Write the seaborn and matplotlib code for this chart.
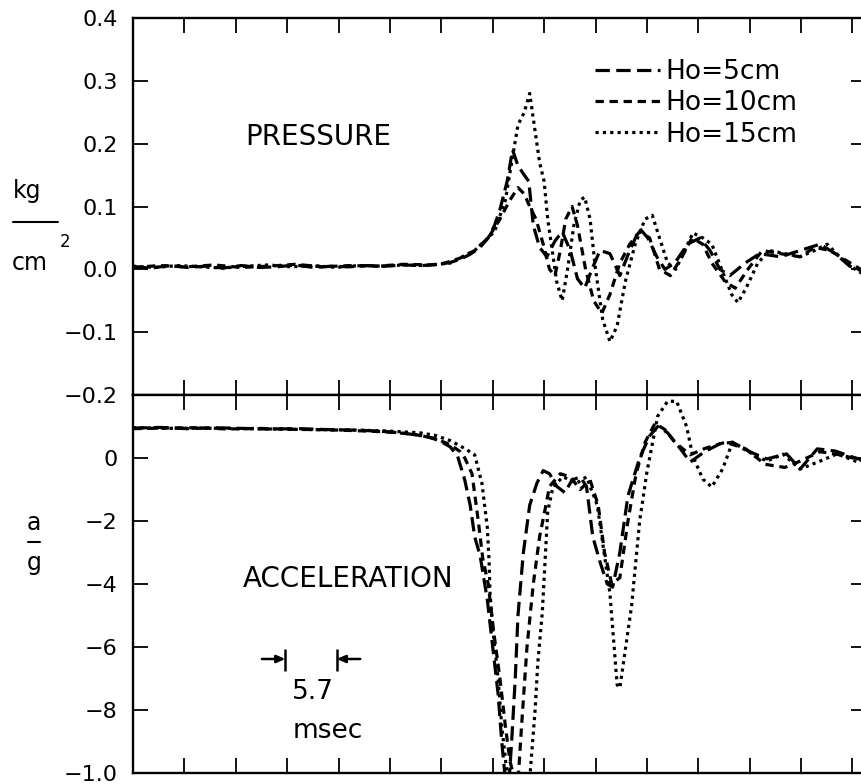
import pandas as pd
import numpy as np
import matplotlib
matplotlib.use("Agg")
import matplotlib.pyplot as plt
import seaborn as sns
from matplotlib.lines import Line2D

# time in msec (one x tick = 5.7 msec), pressure in kg/cm2, acceleration in a/g
labels = ["Ho=5cm", "Ho=10cm", "Ho=15cm"]

press_x_5 = [0, 2, 4, 6, 8, 10, 12, 14, 16, 18, 20, 22, 24, 26, 28, 30, 32,
             34.0, 35.2, 36.3, 37.4, 38.5, 39.4, 40.1, 40.7, 41.5, 42.1,
             42.7, 43.4, 43.9, 44.4, 45.1, 45.9, 46.8, 47.6, 48.5, 49.3,
             50.1, 50.9, 51.8, 52.9, 54.0, 55.1, 56.2, 57.1, 58.1, 59.0,
             60.1, 61.5, 62.9, 64.0, 65.1, 66.2, 67.9, 69.5, 71.8, 74.0,
             76.2, 77.9, 79.5, 81.3]
press_y_5 = [0.004, 0.002, 0.006, 0.003, 0.005, 0.002, 0.006, 0.003, 0.004, 0.007, 0.003, 0.005,
             0.004, 0.006, 0.005, 0.007, 0.006,
             0.008, 0.011, 0.016, 0.024, 0.035, 0.05, 0.07, 0.095, 0.14, 0.19,
             0.165, 0.15, 0.14, 0.07, 0.035, 0.02, 0.045, 0.06, 0.03, -0.015,
             -0.03, 0.0, 0.03, 0.025, -0.01, 0.03, 0.065, 0.05, 0.02, 0.0,
             0.01, 0.04, 0.05, 0.03, 0.0, -0.01, 0.01, 0.025, 0.02, 0.03,
             0.04, 0.025, 0.005, -0.005]

press_x_10 = [0, 3, 6, 9, 12, 15, 18, 21, 24, 27, 30, 33,
              34.6, 36.3, 37.9, 39.4, 40.7, 41.8, 42.7, 43.4, 44.0, 44.7,
              45.5, 46.2, 46.8, 47.4, 48.0, 48.7, 49.3, 50.2, 51.1, 52.0,
              52.9, 54.0, 55.1, 56.2, 57.3, 58.4, 59.6, 60.9, 62.0, 63.2,
              64.2, 65.7, 66.8, 68.2, 69.8, 71.8, 74.0, 75.6, 77.3, 79.0, 81.3]
press_y_10 = [0.003, 0.006, 0.004, 0.007, 0.003, 0.005, 0.008, 0.004, 0.006, 0.005, 0.008, 0.007,
              0.01, 0.018, 0.03, 0.05, 0.08, 0.11, 0.13, 0.12, 0.10, 0.08,
              0.04, 0.0, -0.01, 0.03, 0.08, 0.10, 0.07, 0.0, -0.05, -0.07,
              -0.04, 0.01, 0.04, 0.06, 0.05, 0.0, -0.01, 0.02, 0.05, 0.04,
              0.01, -0.02, -0.03, 0.0, 0.03, 0.025, 0.02, 0.035, 0.03, 0.015, -0.005]

press_x_15 = [0, 2.5, 5, 7.5, 10, 12.5, 15, 17.5, 20, 22.5, 25, 27.5, 30, 32.5,
              35.2, 37.9, 40.1, 41.3, 42.0, 42.7, 43.4, 44.0, 44.6, 45.1,
              45.6, 46.0, 46.5, 47.0, 47.6, 48.2, 48.9, 49.6, 50.1, 50.7,
              51.3, 52.1, 52.9, 53.7, 54.6, 55.7, 56.8, 57.6, 58.4, 59.3,
              60.2, 61.2, 62.1, 63.2, 64.2, 65.3, 66.4, 67.1, 68.0, 69.3,
              70.6, 72.3, 74.0, 75.6, 77.0, 78.4, 80.1, 81.3]
press_y_15 = [0.005, 0.003, 0.006, 0.004, 0.002, 0.005, 0.007, 0.004, 0.006, 0.003, 0.006, 0.005,
              0.007, 0.006,
              0.01, 0.03, 0.06, 0.11, 0.17, 0.23, 0.25, 0.28, 0.22, 0.17,
              0.14, 0.08, 0.03, -0.02, -0.05, 0.0, 0.07, 0.11, 0.115, 0.08,
              0.0, -0.08, -0.115, -0.09, -0.02, 0.04, 0.08, 0.086, 0.05, 0.01,
              0.0, 0.03, 0.058, 0.05, 0.04, 0.0, -0.04, -0.053, -0.03, 0.01,
              0.03, 0.025, 0.02, 0.03, 0.04, 0.02, 0.0, -0.01]

acc_x_5 = [0, 3, 6, 9, 12, 15, 18.5, 21.8, 25.2, 27.4, 29.6, 31.8, 32.9, 34.0,
           35.2, 36.0, 36.8, 37.4, 37.9, 38.5, 39.3, 39.9, 40.5, 40.9,
           41.3, 41.7, 42.0, 42.4, 42.7, 43.3, 44.0, 44.8, 45.5, 46.2,
           47.0, 47.9, 48.7, 49.6, 50.3, 51.0, 51.8, 52.6, 53.2, 54.0,
           54.9, 56.2, 57.3, 58.2, 59.3, 60.7, 61.8, 63.4, 65.1, 66.5,
           68.4, 70.3, 72.5, 74.0, 75.9, 77.9, 79.5, 81.3]
acc_y_5 = [0.95, 0.97, 0.93, 0.96, 0.94, 0.92, 0.93, 0.9, 0.88, 0.85, 0.8, 0.72, 0.65, 0.55,
           0.35, 0.06, -0.7, -1.5, -2.5, -3.1, -4.5, -6.0, -7.5, -9.0,
           -10.2, -10.3, -9.0, -7.0, -5.0, -3.0, -1.5, -0.8, -0.4, -0.5,
           -0.9, -1.1, -0.7, -0.6, -0.9, -2.5, -3.3, -4.0, -4.1, -3.0,
           -1.2, 0.0, 0.7, 1.0, 0.8, 0.3, -0.13, 0.2, 0.45, 0.5,
           0.2, -0.03, 0.13, -0.35, 0.29, 0.22, 0.06, -0.1]

acc_x_10 = [0, 3.5, 7, 10.5, 14, 17.5, 21, 24.5, 28, 31, 33.5,
            35.2, 36.3, 36.8, 37.6, 38.3, 38.8, 39.4, 40.0, 40.7, 41.3,
            41.8, 42.4, 42.7, 43.1, 43.7, 44.4, 45.1, 45.8, 46.2, 47.4,
            48.5, 49.6, 50.7, 51.6, 52.3, 53.1, 54.0, 54.9, 55.8, 56.8,
            57.9, 59.0, 60.1, 61.8, 63.4, 65.7, 67.9, 70.1, 72.3, 74.0,
            76.2, 78.4, 81.3]
acc_y_10 = [0.93, 0.95, 0.96, 0.92, 0.94, 0.91, 0.9, 0.87, 0.83, 0.76, 0.62,
            0.42, 0.2, 0.0, -0.5, -2.0, -3.2, -4.0, -5.5, -7.0, -8.5,
            -9.6, -10.3, -10.3, -8.5, -6.0, -4.0, -2.5, -1.5, -0.9, -0.5,
            -0.6, -1.0, -0.7, -1.5, -3.0, -4.0, -3.8, -2.0, -0.5, 0.5,
            1.1, 0.9, 0.5, 0.1, 0.3, 0.5, 0.3, -0.2, -0.3, -0.1,
            0.2, 0.1, -0.1]

acc_x_15 = [0, 4, 8, 12, 16, 20, 24, 28, 31.8, 33.5,
            35.2, 36.8, 37.9, 38.7, 39.3, 39.5, 39.6, 39.9, 40.5, 40.9,
            41.4, 42.0, 43.1, 44.0, 44.6, 44.9, 45.4, 45.7, 46.0, 46.6,
            47.7, 49.2, 50.3, 51.5, 52.1, 52.9, 53.7, 54.0, 55.3, 56.2,
            57.0, 58.2, 59.3, 60.3, 61.4, 62.1, 63.2, 64.2, 65.4, 66.5,
            68.1, 70.3, 72.1, 74.0, 76.2, 78.1, 80.3, 81.3]
acc_y_15 = [0.96, 0.94, 0.95, 0.93, 0.92, 0.9, 0.89, 0.86, 0.8, 0.72,
            0.55, 0.3, 0.1, -0.8, -2.2, -3.3, -4.3, -5.4, -7.0, -8.5,
            -9.8, -10.6, -10.6, -10.2, -8.0, -6.5, -4.9, -3.3, -1.7, -0.9,
            -0.6, -0.8, -0.6, -1.5, -2.7, -4.3, -7.2, -7.3, -4.7, -2.0,
            -0.45, 1.33, 1.8, 1.8, 1.0, 0.06, -0.67, -0.92, -0.35, 0.5,
            0.22, -0.1, 0.12, -0.35, -0.1, 0.13, -0.12, -0.05]

press_ticks = [-0.2, -0.1, 0.0, 0.1, 0.2, 0.3, 0.4]
press_ticklabels = ["\u22120.2", "\u22120.1", "0.0", "0.1", "0.2", "0.3", "0.4"]
acc_ticks = [-10, -8, -6, -4, -2, 0]
acc_ticklabels = ["\u22121.0", "\u22128", "\u22126", "\u22124", "\u22122", "0"]

tick_step = 5.7      # msec per x tick
scale_left = 16.9    # 5.7 msec scale bar in the acceleration panel
scale_y = -6.38


def long_df(xs, ys):
    parts = [pd.DataFrame({"ms": x, "val": y, "Ho": lab}) for x, y, lab in zip(xs, ys, labels)]
    return pd.concat(parts, ignore_index=True)


press = long_df([press_x_5, press_x_10, press_x_15], [press_y_5, press_y_10, press_y_15])
acc = long_df([acc_x_5, acc_x_10, acc_x_15], [acc_y_5, acc_y_10, acc_y_15])

sns.set_style("ticks")
plt.rcParams["font.family"] = ["DejaVu Sans"]
plt.rcParams.update({"text.color": "black", "axes.labelcolor": "black",
                     "xtick.color": "black", "ytick.color": "black"})

dash_map = {"Ho=5cm": (4.5, 2.0), "Ho=10cm": (2.6, 1.8), "Ho=15cm": (1, 1.3)}

fig = plt.figure(figsize=(8.62, 7.84), dpi=100)
ax_p = fig.add_axes([0.1543, 0.4962, 0.8503, 0.4808])
ax_a = fig.add_axes([0.1543, 0.0140, 0.8503, 0.4822])

for ax, df in [(ax_p, press), (ax_a, acc)]:
    sns.lineplot(data=df, x="ms", y="val", style="Ho", style_order=labels, dashes=dash_map,
                 color="black", lw=2.3, estimator=None, sort=False, legend=False, ax=ax)
    ax.set_xlabel("")
    ax.set_ylabel("")
    ax.set_xlim(0, 81.3)
    ax.set_xticks(np.arange(0, 81, tick_step))
    ax.tick_params(axis="both", which="both", direction="in", length=11, width=1.3,
                   top=True, right=True, labelbottom=False, labelsize=16, pad=11,
                   colors="black", labelcolor="black")
    for sp in ax.spines.values():
        sp.set_linewidth(1.7)
        sp.set_color("black")

ax_p.set_ylim(-0.2, 0.4)
ax_p.set_yticks(press_ticks)
ax_p.set_yticklabels(press_ticklabels)
ax_a.set_ylim(-10, 2)
ax_a.set_yticks(acc_ticks)
ax_a.set_yticklabels(acc_ticklabels)

ax_p.legend(ax_p.lines[:3], labels, loc="upper left", bbox_to_anchor=(0.630, 0.891),
            frameon=False, fontsize=19, handlelength=2.46, handletextpad=0.2,
            labelspacing=0.2, borderpad=0, borderaxespad=0)

ax_p.text(12.4, 0.21, "PRESSURE", fontsize=20, ha="left", va="center")
ax_a.text(12.2, -3.84, "ACCELERATION", fontsize=20, ha="left", va="center")

# 5.7 msec scale bar
scale_right = scale_left + tick_step
arrow = dict(arrowstyle="-|>,head_length=0.5,head_width=0.22", color="black", lw=1.8,
             shrinkA=0, shrinkB=0)
ax_a.annotate("", xy=(scale_left, scale_y), xytext=(scale_left - 2.6, scale_y), arrowprops=arrow)
ax_a.annotate("", xy=(scale_right, scale_y), xytext=(scale_right + 2.6, scale_y), arrowprops=arrow)
ax_a.vlines([scale_left, scale_right], scale_y - 0.38, scale_y + 0.33, color="black", lw=1.8)
ax_a.text(17.6, -7.43, "5.7", fontsize=19, ha="left", va="center")
ax_a.text(17.7, -8.67, "msec", fontsize=19, ha="left", va="center")

# stacked unit labels
fig.text(0.0151, 0.7564, "kg", fontsize=17, ha="left", va="center")
fig.add_artist(Line2D([0.0151, 0.0673], [0.7168, 0.7168], transform=fig.transFigure,
                      color="black", lw=1.5))
fig.text(0.0139, 0.6645, "cm", fontsize=17, ha="left", va="center")
fig.text(0.0696, 0.6913, "2", fontsize=12, ha="left", va="center")

fig.text(0.0313, 0.3329, "a", fontsize=17, ha="left", va="center")
fig.add_artist(Line2D([0.0325, 0.0464], [0.3087, 0.3087], transform=fig.transFigure,
                      color="black", lw=1.5))
fig.text(0.0313, 0.2819, "g", fontsize=17, ha="left", va="center")

fig.savefig("out.png", dpi=100)
